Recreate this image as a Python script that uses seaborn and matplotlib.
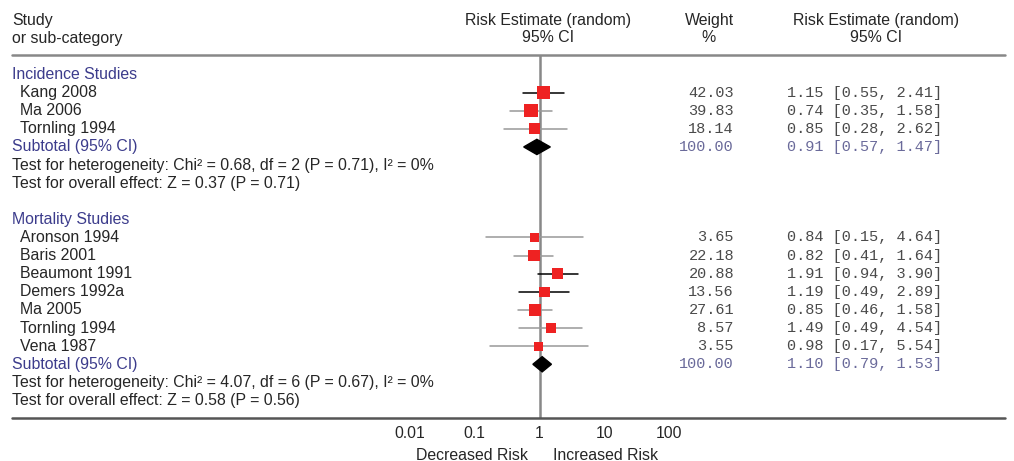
import numpy as np
import seaborn as sns
import matplotlib.pyplot as plt
import matplotlib.transforms as mtransforms

# Study data
inc_studies = ["Kang 2008", "Ma 2006", "Tornling 1994"]
inc_rr = [1.15, 0.74, 0.85]
inc_lo = [0.55, 0.35, 0.28]
inc_hi = [2.41, 1.58, 2.62]
inc_weight = [42.03, 39.83, 18.14]
inc_total = [0.91, 0.57, 1.47]
inc_het = "Test for heterogeneity: Chi² = 0.68, df = 2 (P = 0.71), I² = 0%"
inc_effect = "Test for overall effect: Z = 0.37 (P = 0.71)"

mort_studies = ["Aronson 1994", "Baris 2001", "Beaumont 1991", "Demers 1992a",
                "Ma 2005", "Tornling 1994", "Vena 1987"]
mort_rr = [0.84, 0.82, 1.91, 1.19, 0.85, 1.49, 0.98]
mort_lo = [0.15, 0.41, 0.94, 0.49, 0.46, 0.49, 0.17]
mort_hi = [4.64, 1.64, 3.90, 2.89, 1.58, 4.54, 5.54]
mort_weight = [3.65, 22.18, 20.88, 13.56, 27.61, 8.57, 3.55]
mort_total = [1.10, 0.79, 1.53]
mort_het = "Test for heterogeneity: Chi² = 4.07, df = 6 (P = 0.67), I² = 0%"
mort_effect = "Test for overall effect: Z = 0.58 (P = 0.56)"

xticks = [0.01, 0.1, 1, 10, 100]
xticklabels = ["0.01", "0.1", "1", "10", "100"]

sns.set_style("white")
plt.rcParams["font.family"] = ["Liberation Sans", "DejaVu Sans"]

W, H = 1014, 461
fig = plt.figure(figsize=(W / 100, H / 100), dpi=100)

def fx(px):
    return px / W

def fy(py):
    return 1 - py / H

row0, row_h = 74.5, 18.11
top_px, bot_px = 55, 418
ax = fig.add_axes([fx(410), fy(bot_px), fx(669) - fx(410), fy(top_px) - fy(bot_px)])
ax.set_xscale("log")
ax.set_xlim(0.01, 100)
ax.set_ylim((bot_px - row0) / row_h, (top_px - row0) / row_h)
ax.set_facecolor("none")
for s in ax.spines.values():
    s.set_visible(False)
ax.set_yticks([])
ax.set_xticks(xticks)
ax.set_xticklabels(xticklabels, fontsize=11.3)
ax.xaxis.set_minor_locator(plt.NullLocator())
ax.tick_params(axis="x", direction="inout", length=6, width=1, color="#777777", pad=3)

tr = mtransforms.blended_transform_factory(fig.transFigure, ax.transData)

blue = "#3c3c8c"
num_col = "#4a4a4a"
sub_col = "#6a6a9a"
mono = ["Liberation Mono", "DejaVu Sans Mono"]
fs = 11.4
fm = 11

# header
fig.text(fx(12), fy(20), "Study", fontsize=fs, va="center")
fig.text(fx(12), fy(38), "or sub-category", fontsize=fs, va="center")
for cx, l1, l2 in [(548, "Risk Estimate (random)", "95% CI"),
                   (709, "Weight", "%"),
                   (876, "Risk Estimate (random)", "95% CI")]:
    fig.text(fx(cx), fy(20), l1, fontsize=fs, va="center", ha="center")
    fig.text(fx(cx), fy(38), l2, fontsize=fs, va="center", ha="center")

# horizontal rules and the null line
fig.add_artist(plt.Line2D([fx(12), fx(1005)], [fy(top_px), fy(top_px)], color="#888888", lw=1.8))
fig.add_artist(plt.Line2D([fx(12), fx(1005)], [fy(bot_px), fy(bot_px)], color="#555555", lw=1.8))
ax.axvline(1, color="#888888", lw=1.8, zorder=1)

# darker CI lines in the reference
dark_ci = {"Kang 2008", "Beaumont 1991", "Demers 1992a"}

def draw_group(start, title, studies, rr, lo, hi, weight, total, het, eff):
    ax.text(fx(12), start, title, transform=tr, fontsize=fs, color=blue, va="center")
    rows = np.arange(len(studies)) + start + 1
    for r, name, w, e, l, h in zip(rows, studies, weight, rr, lo, hi):
        ax.text(fx(20), r, name, transform=tr, fontsize=fs, va="center")
        ax.text(fx(734), r, f"{w:.2f}", transform=tr, fontsize=fm, va="center",
                ha="right", family=mono, color=num_col)
        ax.text(fx(787), r, f"{e:.2f} [{l:.2f}, {h:.2f}]", transform=tr, fontsize=fm,
                va="center", family=mono, color=num_col)
        c = "black" if name in dark_ci else "#999999"
        ax.plot([l, h], [r, r], color=c, lw=1.1, zorder=2)
    sns.scatterplot(x=rr, y=rows, size=weight, sizes=(42, 95), size_norm=(3.55, 42.03),
                    marker="s", color="#ee2222", linewidth=0, legend=False, ax=ax, zorder=3)
    sr = start + len(studies) + 1
    ax.text(fx(12), sr, "Subtotal (95% CI)", transform=tr, fontsize=fs, color=blue, va="center")
    ax.text(fx(734), sr, "100.00", transform=tr, fontsize=fm, va="center", ha="right",
            family=mono, color=sub_col)
    ax.text(fx(787), sr, f"{total[0]:.2f} [{total[1]:.2f}, {total[2]:.2f}]", transform=tr,
            fontsize=fm, va="center", family=mono, color=sub_col)
    dh = 0.42
    ax.fill([total[1], total[0], total[2], total[0]], [sr, sr - dh, sr, sr + dh],
            color="black", zorder=4)
    ax.text(fx(12), sr + 1, het, transform=tr, fontsize=fs, va="center")
    ax.text(fx(12), sr + 2, eff, transform=tr, fontsize=fs, va="center")

draw_group(0, "Incidence Studies", inc_studies, inc_rr, inc_lo, inc_hi, inc_weight,
           inc_total, inc_het, inc_effect)
draw_group(8, "Mortality Studies", mort_studies, mort_rr, mort_lo, mort_hi, mort_weight,
           mort_total, mort_het, mort_effect)

fig.text(fx(528), fy(455), "Decreased Risk", fontsize=fs, ha="right", va="center")
fig.text(fx(553), fy(455), "Increased Risk", fontsize=fs, ha="left", va="center")

fig.savefig("out.png", dpi=100)
